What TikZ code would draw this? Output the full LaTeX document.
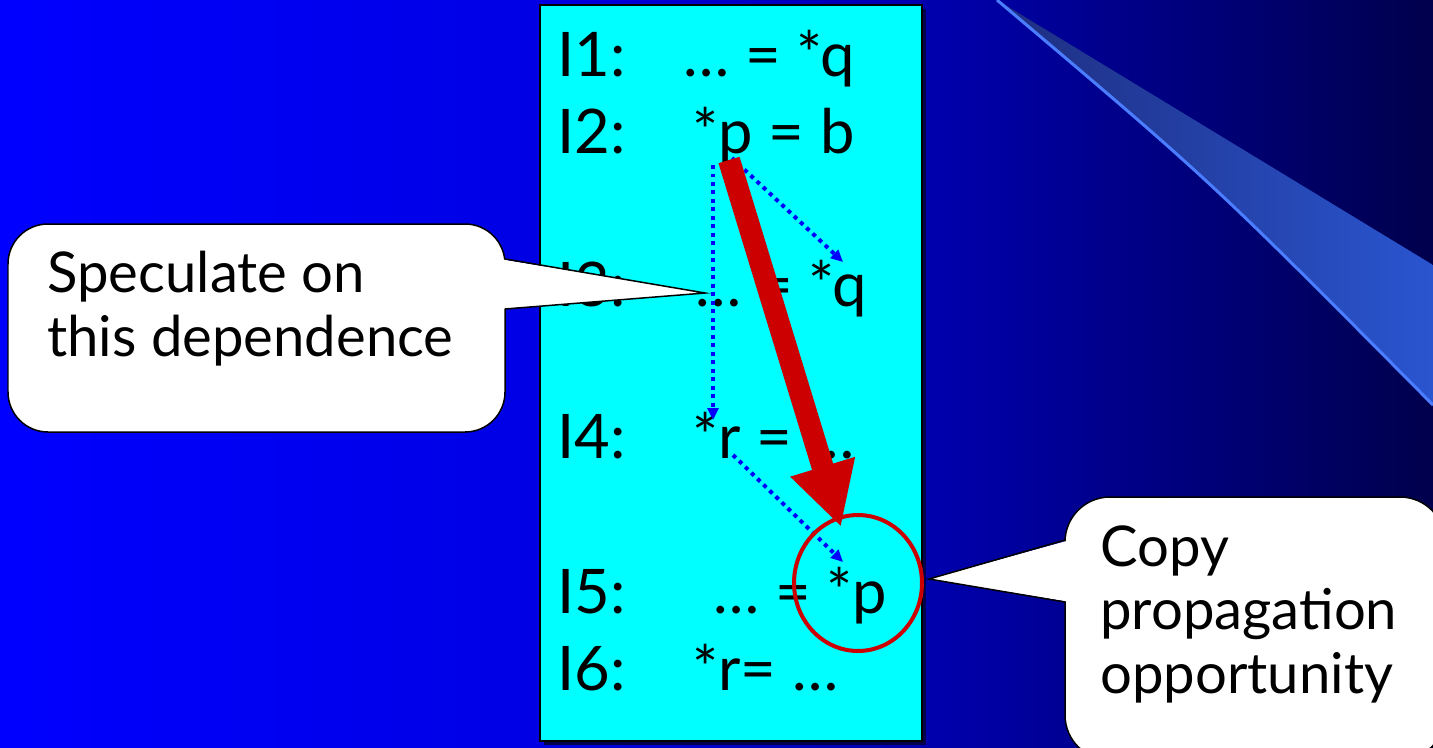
\documentclass[tikz,border=0pt]{standalone}
\usepackage{fontspec}
\setmainfont{Lato}
\usetikzlibrary{arrows.meta,shapes.geometric}
\definecolor{BoxCyan}{RGB}{0,255,255}
\definecolor{ArrowRed}{RGB}{204,0,0}
\definecolor{DepBlue}{RGB}{0,0,255}
\definecolor{SwooshLine}{RGB}{74,125,255}
\definecolor{SwooshDark}{RGB}{30,46,128}
\definecolor{SwooshLight}{RGB}{42,85,208}
\pgfdeclarehorizontalshading{slidebg}{100bp}{rgb(0bp)=(0,0,1); rgb(25bp)=(0,0,1);
  rgb(43bp)=(0,0,0.9); rgb(58bp)=(0,0,0.67); rgb(75bp)=(0,0,0.3); rgb(100bp)=(0,0,0.3)}

\begin{document}
\begin{tikzpicture}[x=0.02cm,y=-0.02cm,
  instr/.style={font=\fontsize{35}{42}\selectfont,anchor=base west,inner sep=0pt},
  bubbletext/.style={font=\fontsize{32}{36}\selectfont,anchor=base west,align=left,inner sep=0pt},
  bubble/.style={fill=white,draw=black,line width=0.03cm},
  depline/.style={DepBlue,line width=0.08cm,dash pattern=on 0.08cm off 0.09cm,
    -{Triangle[length=0.24cm,width=0.22cm]}},
  copyline/.style={ArrowRed,line width=0.44cm,-{Triangle[length=1.26cm,width=1.26cm]}}]
  \useasboundingbox (0,0) rectangle (1433,747);
  \clip (0,0) rectangle (1433,747);

  % fondo
  \shade[shading=slidebg] (0,0) rectangle (1433,747);
  \shade[left color=SwooshDark,right color=SwooshLight]
    (997,0) -- (1433,265) -- (1433,405) .. controls (1210,180) .. (997,0) -- cycle;
  \draw[SwooshLine,line width=0.06cm] (997,0) .. controls (1210,180) .. (1433,405);

  % caja de instrucciones
  \fill[black!70!blue] (544,9) rectangle (926,745);
  \filldraw[fill=BoxCyan,draw=black,line width=0.04cm] (540,5) rectangle (922,741);

  \node[instr] (l1) at (557,76) {I1:};
  \node[instr] (s1) at (683,76) {… = *q};
  \node[instr] (l2) at (557,153) {I2:};
  \node[instr] (s2) at (692,153) {*p = b};
  \node[instr] (l3) at (557,306) {I3:};
  \node[instr] (s3) at (695,306) {… = *q};
  \node[instr] (l4) at (557,458) {I4:};
  \node[instr] (s4) at (692,458) {*r = …};
  \node[instr] (l5) at (557,613) {I5:};
  \node[instr] (s5) at (713,613) {… = *p};
  \node[instr] (l6) at (557,690) {I6:};
  \node[instr] (s6) at (692,690) {*r= …};

  % dependencias
  \coordinate (starI2) at (713,165);
  \coordinate (starI4) at (713,420);
  \coordinate (pI2) at (732,158);
  \coordinate (qI3) at (843,262);
  \coordinate (rI4) at (733,455);
  \coordinate (pI5) at (843,562);
  \coordinate (redTail) at (729,160);
  \coordinate (redTip) at (841,527);
  \draw[depline] (starI2) -- (starI4);
  \draw[depline] (pI2) -- (qI3);
  \draw[depline] (rI4) -- (pI5);
  \draw[copyline] (redTail) -- (redTip);
  \node[ellipse,draw=ArrowRed,line width=0.08cm,minimum width=2.56cm,minimum height=2.72cm,inner sep=0pt]
    (ring) at (858,583) {};

  % globo izquierdo
  \coordinate (specTip) at (705,293);
  \draw[bubble,rounded corners=0.8cm] (8,224) rectangle (505,432);
  \fill[white] (500,259) -- (specTip) -- (500,309) -- cycle;
  \draw[line width=0.03cm] (505,259) -- (specTip) -- (505,309);
  \node[bubbletext] (spec) at (47,356) {Speculate on\\this dependence};

  % globo derecho
  \coordinate (copyTip) at (929,579);
  \draw[bubble,rounded corners=0.9cm] (1065,497) rectangle (1445,760);
  \fill[white] (1070,540) -- (copyTip) -- (1070,602) -- cycle;
  \draw[line width=0.03cm] (1065,540) -- (copyTip) -- (1065,602);
  \node[bubbletext] (copy) at (1100,693) {Copy\\propagation\\opportunity};
\end{tikzpicture}
\end{document}
